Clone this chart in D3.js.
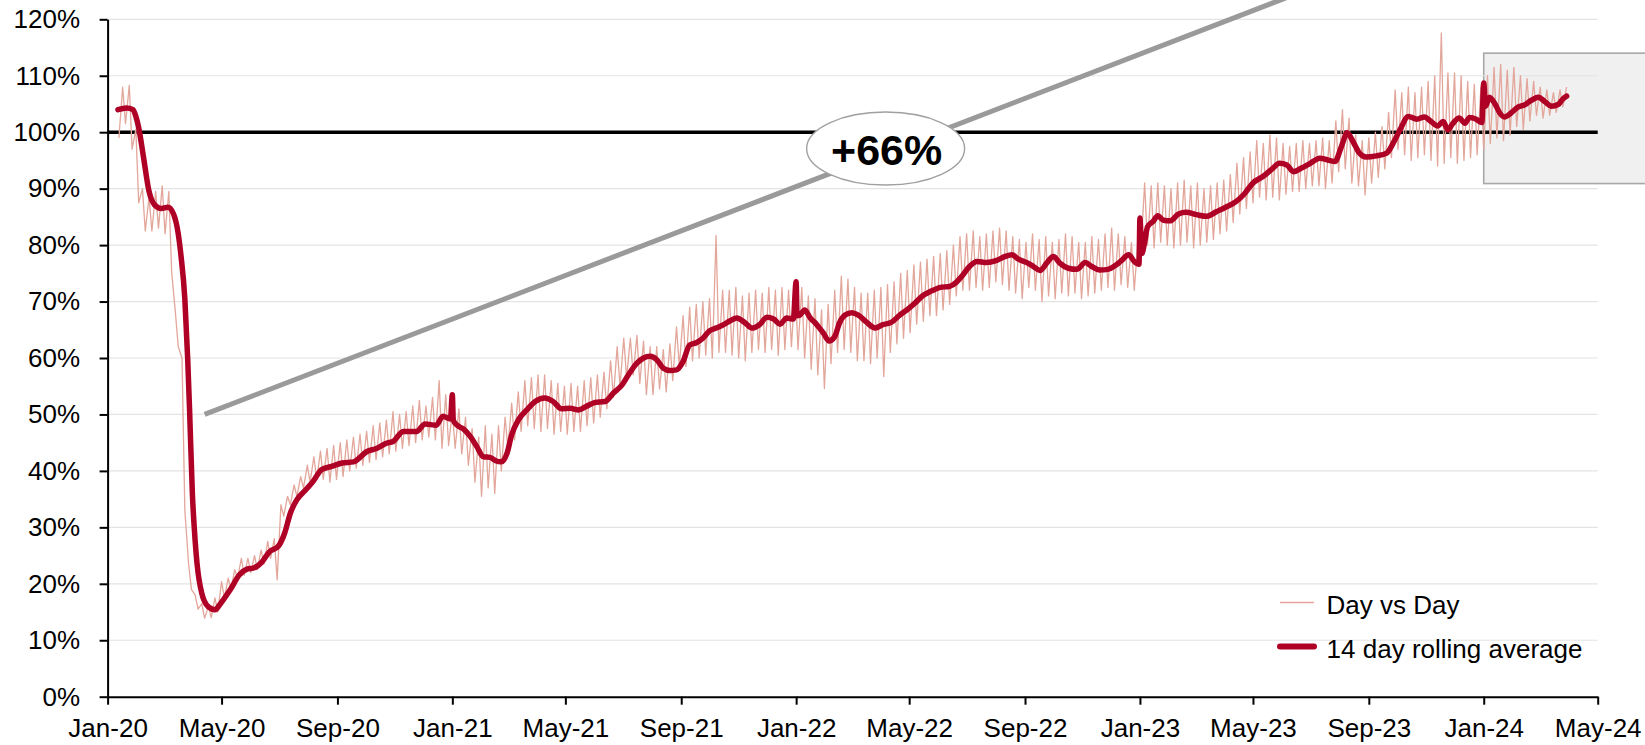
<!DOCTYPE html>
<html>
<head>
<meta charset="utf-8">
<script src="https://cdn.jsdelivr.net/npm/d3@7"></script>
<style>
  html, body { margin: 0; padding: 0; background: #fff; }
  svg { display: block; font-family: "Liberation Sans", Arial, sans-serif; }
</style>
</head>
<body>
<svg id="chart" width="1645" height="745"></svg>
<script>
// 14 day rolling average (% of the same day in the baseline year)
const avgDates = [
"2020-01-12","2020-01-21","2020-01-28","2020-01-31","2020-02-03","2020-02-08","2020-02-14","2020-02-20","2020-02-27","2020-03-05",
"2020-03-11","2020-03-16","2020-03-19","2020-03-23","2020-03-26","2020-03-28","2020-03-31","2020-04-03","2020-04-05","2020-04-10",
"2020-04-17","2020-04-24","2020-04-29","2020-05-10","2020-05-20","2020-05-28","2020-06-04","2020-06-13","2020-06-21","2020-06-30",
"2020-07-07","2020-07-13","2020-07-20","2020-07-29","2020-08-06","2020-08-15","2020-08-26","2020-09-06","2020-09-18","2020-10-02",
"2020-10-13","2020-10-23","2020-10-30","2020-11-10","2020-11-24","2020-12-03","2020-12-15","2020-12-22","2020-12-30","2021-01-01",
"2021-01-02","2021-01-06","2021-01-13","2021-01-20","2021-01-27","2021-02-03","2021-02-10","2021-02-16","2021-02-22","2021-02-28",
"2021-03-05","2021-03-12","2021-03-21","2021-03-30","2021-04-09","2021-04-18","2021-04-27","2021-05-06","2021-05-15","2021-05-23",
"2021-06-01","2021-06-12","2021-06-21","2021-06-30","2021-07-08","2021-07-16","2021-07-23","2021-07-30","2021-08-06","2021-08-13",
"2021-08-20","2021-08-27","2021-09-03","2021-09-10","2021-09-17","2021-09-24","2021-10-01","2021-10-08","2021-10-16","2021-10-23",
"2021-10-30","2021-11-08","2021-11-15","2021-11-23","2021-12-01","2021-12-08","2021-12-15","2021-12-22","2021-12-29","2022-01-01",
"2022-01-02","2022-01-05","2022-01-10","2022-01-16","2022-01-23","2022-01-30","2022-02-05","2022-02-11","2022-02-16","2022-02-22",
"2022-03-01","2022-03-08","2022-03-17","2022-03-26","2022-04-03","2022-04-12","2022-04-21","2022-04-30","2022-05-07","2022-05-16",
"2022-05-25","2022-06-03","2022-06-13","2022-06-20","2022-06-27","2022-07-04","2022-07-12","2022-07-22","2022-08-02","2022-08-11",
"2022-08-18","2022-08-25","2022-09-03","2022-09-10","2022-09-17","2022-09-24","2022-10-01","2022-10-08","2022-10-17","2022-10-26",
"2022-11-04","2022-11-11","2022-11-19","2022-11-28","2022-12-05","2022-12-12","2022-12-20","2022-12-26","2022-12-31","2023-01-01",
"2023-01-03","2023-01-06","2023-01-09","2023-01-15","2023-01-20","2023-01-26","2023-02-02","2023-02-11","2023-02-19","2023-03-02",
"2023-03-13","2023-03-23","2023-04-03","2023-04-13","2023-04-22","2023-05-01","2023-05-12","2023-05-22","2023-05-29","2023-06-06",
"2023-06-13","2023-06-21","2023-06-30","2023-07-11","2023-07-21","2023-07-27","2023-08-03","2023-08-09","2023-08-15","2023-08-22",
"2023-08-29","2023-09-09","2023-09-20","2023-09-27","2023-10-04","2023-10-13","2023-10-22","2023-10-30","2023-11-06","2023-11-13",
"2023-11-19","2023-11-24","2023-11-29","2023-12-06","2023-12-12","2023-12-17","2023-12-24","2023-12-30","2024-01-01","2024-01-03",
"2024-01-07","2024-01-13","2024-01-18","2024-01-23","2024-01-30","2024-02-05","2024-02-14","2024-02-21","2024-02-28","2024-03-06",
"2024-03-13","2024-03-20","2024-03-25","2024-03-29"
];
const avgValues = [
104.0,104.3,104.0,102.8,100.8,95.7,89.5,87.1,86.5,86.7,
85.5,82.0,78.0,70.5,60.0,51.0,36.0,27.5,23.5,18.3,
15.9,15.4,16.3,18.9,21.6,22.6,22.8,23.9,25.7,26.6,
29.0,32.5,34.9,36.6,38.1,40.2,40.8,41.4,41.6,43.4,
44.0,44.9,45.2,47.0,47.0,48.3,48.1,49.7,49.2,53.5,
49.0,48.1,47.4,46.1,44.3,42.5,42.4,41.8,41.6,43.1,
46.4,49.0,50.8,52.3,52.9,52.3,51.0,51.1,50.8,51.4,
52.1,52.3,53.8,55.2,57.3,59.1,60.0,60.3,59.7,58.2,
57.8,57.9,59.4,62.3,62.7,63.5,64.8,65.3,65.9,66.6,
67.1,66.2,65.3,65.9,67.2,66.9,66.0,67.1,66.9,73.5,
67.5,67.6,68.5,67.1,65.9,64.4,63.0,63.8,66.2,67.6,
68.0,67.6,66.3,65.3,65.9,66.3,67.6,68.7,69.7,71.1,
71.9,72.5,72.7,73.4,74.7,76.2,77.1,76.9,77.3,78.0,
78.3,77.5,76.9,76.2,75.5,76.8,78.0,76.8,75.9,75.7,
76.9,76.2,75.6,75.7,76.3,77.2,78.3,77.1,76.6,84.8,
78.5,80.5,83.2,84.2,85.2,84.4,84.3,85.5,85.8,85.4,
85.1,85.9,86.8,87.7,89.1,91.0,92.2,93.6,94.5,94.2,
93.0,93.6,94.4,95.4,95.0,94.8,97.5,99.9,98.4,96.3,
95.6,95.8,96.3,98.1,100.4,102.8,102.3,102.7,101.9,101.1,
101.9,100.4,101.5,102.5,101.6,102.6,102.3,101.7,108.7,104.6,
106.2,105.0,103.4,102.7,103.4,104.3,104.9,105.7,106.2,105.4,
104.6,104.9,105.9,106.4
];

// Day vs Day: weekly low (Monday) and high (Friday), weeks starting 2020-01-13
const dayWeekStart = "2020-01-13";
const dayLows = [
99.0,101.5,97.0,87.5,82.5,82.5,83.0,82.0,75.3,62.0,
33.0,19.0,15.5,13.9,14.0,15.0,17.5,19.0,21.0,21.5,
22.0,22.5,23.5,24.5,20.7,32.0,34.0,35.5,37.0,38.0,
38.5,38.5,38.0,38.5,39.0,40.0,40.5,41.0,41.5,42.0,
42.5,43.0,43.5,44.0,44.5,45.0,45.5,46.0,45.5,44.0,
44.5,44.0,43.0,41.0,38.0,35.5,37.0,36.0,40.0,44.0,
45.5,47.0,48.0,47.5,47.0,47.5,46.5,47.0,46.5,47.0,
47.0,48.0,48.5,49.5,51.0,53.0,55.0,56.5,57.0,55.5,
53.5,53.5,54.5,54.0,56.0,58.5,58.5,59.5,60.0,60.5,
60.0,61.0,61.0,60.5,60.0,59.5,61.0,61.5,61.0,61.5,
60.5,61.5,62.0,61.5,60.0,58.0,57.0,54.6,59.0,61.0,
61.5,61.0,59.5,59.5,59.0,60.0,56.7,61.0,62.5,63.5,
64.5,66.0,66.5,67.5,67.5,68.5,69.5,71.0,72.0,72.0,
72.5,72.0,72.5,73.5,73.0,72.0,71.5,70.5,72.5,72.0,
70.0,71.0,70.5,71.5,71.0,71.5,70.5,71.0,71.5,72.0,
72.5,72.0,73.0,72.5,72.0,79.0,80.0,79.5,80.5,80.0,
79.5,80.0,80.5,79.5,80.0,80.5,81.0,82.0,82.5,84.0,
85.5,86.5,87.5,88.5,88.0,88.5,88.0,89.0,89.5,89.5,
90.0,90.5,90.5,90.0,91.0,93.0,93.5,91.0,90.5,88.9,
91.0,92.0,93.5,95.5,97.0,96.0,95.0,95.5,96.0,95.0,
94.0,94.5,95.5,94.5,95.0,95.5,96.0,97.0,98.0,99.0,
98.5,99.5,101.0,100.5,102.0,103.0,102.5,103.0,103.5,104.5
];
const dayHighs = [
108.0,108.3,100.5,90.0,88.5,89.5,90.5,89.5,68.0,60.0,
23.5,18.0,16.5,16.0,17.5,20.4,21.0,22.5,24.5,24.5,
25.0,26.0,27.5,28.0,34.0,35.5,37.5,39.0,41.0,42.5,
43.5,44.0,44.5,45.0,45.5,46.0,46.5,47.0,48.0,48.5,
49.0,50.5,50.0,50.5,51.5,52.5,51.5,53.0,56.0,53.5,
50.5,51.0,49.5,47.5,46.0,48.0,46.5,48.0,49.5,52.0,
54.0,56.0,56.5,57.0,57.0,56.0,55.5,55.0,55.5,55.0,
56.0,56.5,57.0,57.5,59.5,62.0,63.5,63.5,64.0,63.0,
62.0,62.0,61.5,62.5,65.5,67.5,69.0,69.5,70.0,70.5,
81.7,72.0,72.0,72.5,71.0,71.5,72.0,71.5,72.5,72.0,
72.5,72.0,73.0,72.5,71.0,70.5,68.5,69.5,72.0,74.5,
74.0,72.5,71.5,71.5,72.0,72.5,73.0,73.5,75.0,75.5,
76.5,77.0,77.5,78.0,78.5,79.0,80.0,81.5,82.0,82.5,
81.5,82.0,82.5,83.0,82.5,81.5,81.0,80.5,82.0,81.0,
81.5,80.5,81.0,82.0,81.5,80.5,80.5,81.5,81.0,82.0,
83.0,82.0,81.5,80.5,81.0,91.0,90.5,91.0,90.5,90.0,
91.0,91.5,90.5,91.0,90.0,90.5,91.0,91.5,92.5,94.5,
95.5,96.5,98.5,98.0,99.5,99.0,98.0,97.5,98.0,98.5,
98.0,98.5,99.0,98.5,102.0,104.0,102.5,99.5,98.5,99.0,
100.0,101.0,103.5,107.5,107.0,108.0,107.0,108.0,109.0,110.0,
117.6,110.5,110.5,110.0,109.0,108.5,108.0,110.0,111.5,112.0,
111.0,111.5,110.0,109.5,109.0,108.0,107.5,107.0,107.5,108.0
];

const seriesNames = ["Day vs Day", "14 day rolling average"];
const yTicks = [0, 10, 20, 30, 40, 50, 60, 70, 80, 90, 100, 110, 120];
const xTickDates = ["2020-01-01","2020-05-01","2020-09-01","2021-01-01","2021-05-01","2021-09-01",
  "2022-01-01","2022-05-01","2022-09-01","2023-01-01","2023-05-01","2023-09-01","2024-01-01","2024-05-01"];
const baselineValue = 100;

// Recovery trend arrow and its annotation
const trendDates = ["2020-04-13", "2023-06-30"];
const trendValues = [50, 125.4];
const changeLabel = "+66%";
const changeLabelDate = "2022-04-06";
const changeLabelValue = 97.1;

// Shaded panel marking the latest period
const highlightFrom = "2024-01-01";
const highlightRange = [90.9, 114.0];

const parse = d3.utcParse("%Y-%m-%d");
const svg = d3.select("#chart");
const W = 1645;

const x = d3.scaleUtc()
  .domain([parse("2020-01-01"), parse("2024-05-01")])
  .range([107.6, 1597.7]);
const y = d3.scaleLinear().domain([0, 120]).range([696.7, 19.3]);

const avgData = avgDates.map((d, i) => ({ date: parse(d), v: avgValues[i] }));
const weekStart = parse(dayWeekStart);
const dayData = [];
dayLows.forEach((lo, i) => {
  dayData.push({ date: d3.utcDay.offset(weekStart, 7 * i), v: lo });
  dayData.push({ date: d3.utcDay.offset(weekStart, 7 * i + 4), v: dayHighs[i] });
});

const RED = "#af0026";
const PINK = "#e3a69b";

// highlight panel
svg.append("rect")
  .attr("x", x(parse(highlightFrom)))
  .attr("y", y(highlightRange[1]))
  .attr("width", W + 2 - x(parse(highlightFrom)))
  .attr("height", y(highlightRange[0]) - y(highlightRange[1]))
  .attr("fill", "#f0f0f0")
  .attr("stroke", "#a8a8a8")
  .attr("stroke-width", 1.6);

// horizontal gridlines
svg.append("g").selectAll("line")
  .data(yTicks.filter(t => t > 0))
  .join("line")
  .attr("x1", x.range()[0]).attr("x2", x.range()[1])
  .attr("y1", d => y(d)).attr("y2", d => y(d))
  .attr("stroke", "#e4e4e4").attr("stroke-width", 1.2);

// 100% baseline
svg.append("line")
  .attr("x1", x.range()[0]).attr("x2", x.range()[1])
  .attr("y1", y(baselineValue)).attr("y2", y(baselineValue))
  .attr("stroke", "#000").attr("stroke-width", 3.6);

const line = d3.line().x(d => x(d.date)).y(d => y(d.v));

svg.append("path")
  .datum(dayData)
  .attr("d", line)
  .attr("fill", "none")
  .attr("stroke", PINK)
  .attr("stroke-width", 1.3)
  .attr("stroke-linejoin", "round");

svg.append("path")
  .datum(avgData)
  .attr("d", line.curve(d3.curveMonotoneX))
  .attr("fill", "none")
  .attr("stroke", RED)
  .attr("stroke-width", 5.5)
  .attr("stroke-linejoin", "round")
  .attr("stroke-linecap", "round");

// trend line
svg.append("line")
  .attr("x1", x(parse(trendDates[0]))).attr("y1", y(trendValues[0]))
  .attr("x2", x(parse(trendDates[1]))).attr("y2", y(trendValues[1]))
  .attr("stroke", "#9a9a9a").attr("stroke-width", 5);

// change callout
const cx = x(parse(changeLabelDate)), cy = y(changeLabelValue);
svg.append("ellipse")
  .attr("cx", cx).attr("cy", cy).attr("rx", 79).attr("ry", 36.5)
  .attr("fill", "#fff").attr("stroke", "#a0a0a0").attr("stroke-width", 1.4);
svg.append("text")
  .attr("x", cx + 1).attr("y", cy + 16)
  .attr("text-anchor", "middle")
  .attr("font-size", 43).attr("font-weight", "bold").attr("fill", "#000")
  .text(changeLabel);

// axes
const xAxis = svg.append("g")
  .attr("transform", `translate(0,${y(0)})`)
  .call(d3.axisBottom(x)
    .tickValues(xTickDates.map(parse))
    .tickFormat(d3.utcFormat("%b-%y"))
    .tickSize(8).tickSizeOuter(0));
const yAxis = svg.append("g")
  .attr("transform", `translate(${x.range()[0]},0)`)
  .call(d3.axisLeft(y)
    .tickValues(yTicks)
    .tickFormat(d => d + "%")
    .tickSize(8).tickSizeOuter(0));

[xAxis, yAxis].forEach(g => {
  g.attr("font-family", null).attr("font-size", null);
  g.select(".domain").attr("stroke", "#000").attr("stroke-width", 2);
  g.selectAll(".tick line").attr("stroke", "#000").attr("stroke-width", 2);
  g.selectAll(".tick text").attr("fill", "#000").style("font-size", "26px");
});
xAxis.selectAll(".tick text").attr("y", 22);
yAxis.selectAll(".tick text").attr("x", -27.5);

// legend
const legend = svg.append("g").attr("transform", "translate(1278,0)");
const legendRows = [
  { name: seriesNames[0], color: PINK, width: 1.5, y: 602.5 },
  { name: seriesNames[1], color: RED, width: 6, y: 646.5 }
];
legendRows.forEach(r => {
  legend.append("line")
    .attr("x1", 2).attr("x2", 36).attr("y1", r.y).attr("y2", r.y)
    .attr("stroke", r.color).attr("stroke-width", r.width)
    .attr("stroke-linecap", r.width > 2 ? "round" : "butt");
  legend.append("text")
    .attr("x", 48.6).attr("y", r.y + 11)
    .style("font-size", "26px").attr("fill", "#000")
    .text(r.name);
});
</script>
</body>
</html>
